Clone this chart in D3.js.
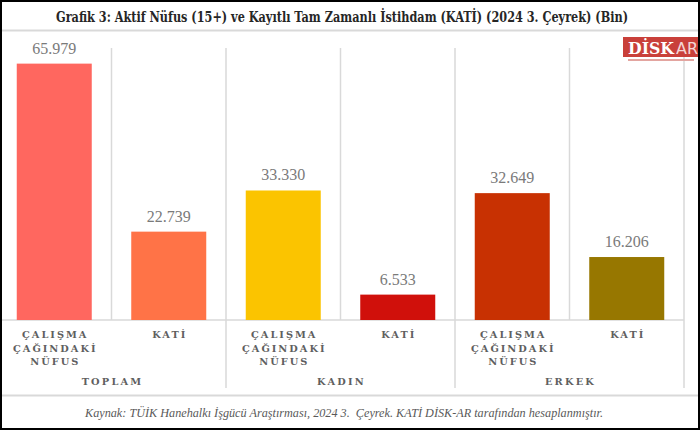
<!DOCTYPE html>
<html><head><meta charset="utf-8">
<script src="https://cdn.jsdelivr.net/npm/d3@7"></script>
<style>
html,body{margin:0;padding:0;background:#fff;}
svg{display:block;}
</style></head>
<body>
<svg id="c" width="700" height="430"></svg>
<script>
const groups = ["TOPLAM", "KADIN", "ERKEK"];
const categories = ["T1", "T2", "K1", "K2", "E1", "E2"];
const categoryLabels = [
  ["ÇALIŞMA", "ÇAĞINDAKİ", "NÜFUS"], ["KATİ"],
  ["ÇALIŞMA", "ÇAĞINDAKİ", "NÜFUS"], ["KATİ"],
  ["ÇALIŞMA", "ÇAĞINDAKİ", "NÜFUS"], ["KATİ"]
];
const values = [65979, 22739, 33330, 6533, 32649, 16206];
const colors = ["#FF675F", "#FF7347", "#FBC400", "#D0100B", "#C83102", "#977700"];
const title = "Grafik 3: Aktif Nüfus (15+) ve Kayıtlı Tam Zamanlı İstihdam (KATİ) (2024 3. Çeyrek) (Bin)";
const source = "Kaynak: TÜİK Hanehalkı İşgücü Araştırması, 2024 3.  Çeyrek. KATİ DİSK-AR tarafından hesaplanmıştır.";

const svg = d3.select("#c");
const plotLeft = -3, plotRight = 684, plotBase = 320, plotTop = 48;
const x = d3.scaleBand().domain(categories).range([plotLeft, plotRight]).paddingInner(0.345).paddingOuter(0.1725);
const step = x.step();
const y = d3.scaleLinear().domain([0, 70000]).range([plotBase, plotTop]);
const fmt = d3.formatLocale({decimal: ",", thousands: ".", grouping: [3], currency: ["", ""]}).format(",d");

// title
svg.append("text").attr("x", 342).attr("y", 22).attr("text-anchor", "middle")
  .attr("font-family", "'DejaVu Serif Condensed', 'DejaVu Serif', serif").attr("font-weight", "bold")
  .attr("font-size", 14).attr("fill", "#262626")
  .attr("textLength", 572).attr("lengthAdjust", "spacingAndGlyphs").text(title);

// separators
svg.append("line").attr("x1", 0).attr("x2", 700).attr("y1", 30.5).attr("y2", 30.5).attr("stroke", "#d9d9d9").attr("stroke-width", 2);
svg.append("line").attr("x1", 0).attr("x2", 700).attr("y1", 395.5).attr("y2", 395.5).attr("stroke", "#d9d9d9").attr("stroke-width", 2);

// vertical grid lines
const gl = svg.append("g").attr("stroke", "#d9d9d9").attr("stroke-width", 1.5);
categories.forEach((c, i) => {
  const boundary = plotLeft + step * (i + 1);
  const isGroup = (i % 2 === 1);
  gl.append("line").attr("x1", boundary).attr("x2", boundary).attr("y1", plotTop).attr("y2", isGroup ? 388 : plotBase);
});
svg.append("line").attr("x1", 0).attr("x2", plotLeft + step * 6).attr("y1", plotBase).attr("y2", plotBase).attr("stroke", "#d9d9d9").attr("stroke-width", 1.5);

// bars
svg.append("g").selectAll("rect").data(values).join("rect")
  .attr("x", (d, i) => x(categories[i])).attr("width", x.bandwidth())
  .attr("y", d => y(d)).attr("height", d => plotBase - y(d))
  .attr("fill", (d, i) => colors[i]);

// value labels
svg.append("g").selectAll("text").data(values).join("text")
  .attr("x", (d, i) => x(categories[i]) + x.bandwidth() / 2)
  .attr("y", d => y(d) - 10).attr("text-anchor", "middle")
  .attr("font-family", "'Liberation Serif', serif").attr("font-size", 16).attr("fill", "#7a7a7a")
  .text(d => fmt(d));

// category labels
const cl = svg.append("g").attr("font-family", "'DejaVu Serif', serif").attr("font-weight", "bold")
  .attr("font-size", 9.8).attr("fill", "#5f5f5f").attr("letter-spacing", 2).attr("text-anchor", "middle");
categoryLabels.forEach((lines, i) => {
  const cx = x(categories[i]) + x.bandwidth() / 2 + 1;
  lines.forEach((t, j) => {
    cl.append("text").attr("x", cx).attr("y", 338 + j * 13.5).text(t);
  });
});

// group labels
groups.forEach((g, i) => {
  svg.append("text").attr("x", plotLeft + step * (2 * i + 1) + 1).attr("y", 385).attr("text-anchor", "middle")
    .attr("font-family", "'DejaVu Serif', serif").attr("font-weight", "bold")
    .attr("font-size", 9.8).attr("fill", "#5f5f5f").attr("letter-spacing", 2.2).text(g);
});

// source
svg.append("text").attr("x", 344).attr("y", 417).attr("text-anchor", "middle")
  .attr("font-family", "'Liberation Serif', serif").attr("font-style", "italic")
  .attr("font-size", 12.5).attr("fill", "#595959").style("white-space", "pre")
  .attr("textLength", 518).attr("lengthAdjust", "spacingAndGlyphs").text(source);

// logo
const logo = svg.append("g");
logo.append("rect").attr("x", 623).attr("y", 37).attr("width", 76).attr("height", 20).attr("fill", "#C9403A");
logo.append("text").attr("x", 628).attr("y", 54).attr("font-family", "'DejaVu Serif', serif").attr("font-weight", "bold")
  .attr("font-size", 16).attr("fill", "#ffffff").attr("textLength", 46).attr("lengthAdjust", "spacingAndGlyphs").text("DİSK");
logo.append("text").attr("x", 676).attr("y", 54).attr("font-family", "'DejaVu Sans', sans-serif")
  .attr("font-size", 16).attr("fill", "#f3d6d4").attr("textLength", 22).attr("lengthAdjust", "spacingAndGlyphs").text("AR");
logo.append("rect").attr("x", 628).attr("y", 59).attr("width", 66).attr("height", 2).attr("fill", "#e3a5a0");

// frame
svg.append("rect").attr("x", 1).attr("y", 1).attr("width", 698).attr("height", 428)
  .attr("fill", "none").attr("stroke", "#000").attr("stroke-width", 2);
</script>
</body></html>
